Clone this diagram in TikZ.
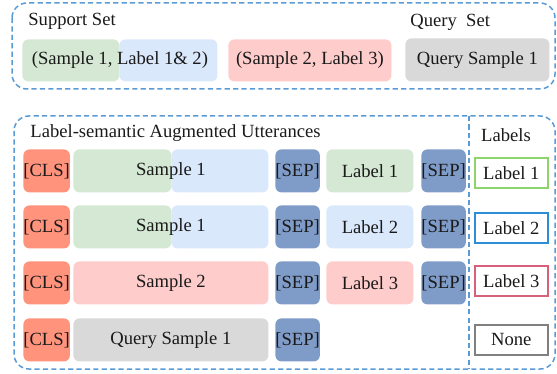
\documentclass[tikz,border=0pt]{standalone}
\usepackage{fontspec}
\setmainfont{Liberation Serif}
\usepackage{tikz}
\usetikzlibrary{calc,positioning}
\definecolor{grpBlue}{HTML}{5B9BD5}
\definecolor{smpGreen}{HTML}{D5E8D4}
\definecolor{smpBlue}{HTML}{DAE8FC}
\definecolor{smpPink}{HTML}{FFCCCC}
\definecolor{smpGray}{HTML}{D9D9D9}
\definecolor{clsRed}{HTML}{FF937C}
\definecolor{sepBlue}{HTML}{7F9BC8}
\definecolor{labGreen}{HTML}{8ED46A}
\definecolor{labBlue}{HTML}{2C8ED6}
\definecolor{labRed}{HTML}{D9607A}
\definecolor{labGray}{HTML}{808080}
\definecolor{blkInk}{HTML}{1A1A1A}
\tikzset{
  every picture/.append style={font=\fontsize{9.3}{11}\selectfont, text=blkInk},
  tok/.style     = {anchor=north west, rounded corners=3pt, inner sep=0pt,
                    minimum height=21.5pt},
  clsbox/.style  = {tok, fill=clsRed, minimum width=22pt},
  sepbox/.style  = {tok, fill=sepBlue, minimum width=21.5pt},
  halfg/.style   = {tok, fill=smpGreen, minimum width=49pt},
  halfb/.style   = {tok, fill=smpBlue, minimum width=48.5pt},
  fullbox/.style = {tok, minimum width=97.5pt},
  labbox/.style  = {tok, minimum width=43.5pt},
  labout/.style  = {anchor=north west, line width=0.8pt, fill=white,
                    minimum width=36.5pt, minimum height=15pt, inner sep=0pt},
  grp/.style     = {draw=grpBlue, line width=0.75pt, rounded corners=7.5pt,
                    dash pattern=on 2.6pt off 1.6pt},
  txt/.style     = {inner sep=0pt},
}

\begin{document}
\begin{tikzpicture}[x=0.5pt, y=-0.5pt]
  \useasboundingbox (0,0) rectangle (557,374);
  % support / query sets
  \draw[grp] (12,3) rectangle (555,89);
  \node[txt, anchor=west] (suptitle) at (28,21) {Support Set};
  \node[txt, anchor=west] (qrytitle) at (410,22) {Query\ \ Set};
  \node[tok, fill=smpGreen, minimum width=48.5pt, minimum height=21pt] (sg) at (22,39) {};
  \node[tok, fill=smpBlue, minimum width=49pt, minimum height=21pt] (sb) at (119,39) {};
  \node[txt] (sup1) at ($(sg.west)!.5!(sb.east)$) {(Sample 1, Label 1\& 2)};
  \node[tok, fill=smpPink, minimum width=81.5pt, minimum height=21pt] (sup2) at (228,39)
    {(Sample 2, Label 3)};
  \node[tok, fill=smpGray, minimum width=72pt, minimum height=21.5pt] (qry) at (405,38)
    {Query Sample 1};

  % augmented utterances
  \draw[grp] (14,116) rectangle (555,369);
  \draw[grp, rounded corners=0pt] (469,116) -- (469,369);
  \node[txt, anchor=west] (augtitle) at (30,133) {Label-semantic Augmented Utterances};
  \node[txt] (labtitle) at (506,135) {Labels};
  \foreach \i/\y in {1/149,2/205,3/261,4/318}{%
    \node[clsbox] (cls\i) at (23,\y) {[CLS]};
    \node[sepbox] (sepa\i) at (275,\y) {[SEP]};}
  \foreach \i/\y/\c/\l in {1/149/smpGreen/Label 1, 2/205/smpBlue/Label 2,
                           3/261/smpPink/Label 3}{%
    \node[labbox, fill=\c] (lab\i) at (326,\y) {\l};
    \node[sepbox] (sepb\i) at (421,\y) {[SEP]};}
  \node[halfg] (g1) at (73,149) {};
  \node[halfb] (b1) at (171,149) {};
  \node[txt] (smp1) at ($(g1.west)!.5!(b1.east)$) {Sample 1};
  \node[halfg] (g2) at (73,205) {};
  \node[halfb] (b2) at (171,205) {};
  \node[txt] (smp2) at ($(g2.west)!.5!(b2.east)$) {Sample 1};
  \node[fullbox, fill=smpPink] (smp3) at (73,261) {Sample 2};
  \node[fullbox, fill=smpGray] (smp4) at (73,318) {Query Sample 1};

  % label column
  \foreach \i/\y/\c/\l in {1/157/labGreen/Label 1, 2/212/labBlue/Label 2,
                           3/265/labRed/Label 3, 4/324/labGray/None}{%
    \node[labout, draw=\c] (out\i) at (474,\y) {\l};}
\end{tikzpicture}
\end{document}
